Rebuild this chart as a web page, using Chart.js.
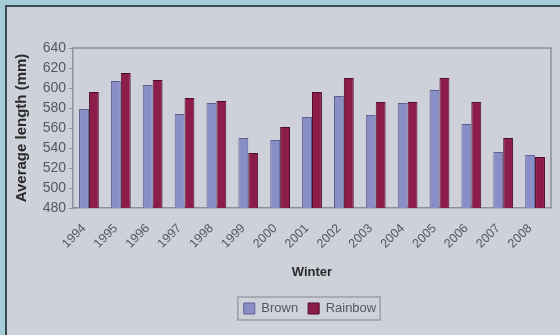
<!DOCTYPE html>
<html>
<head>
<meta charset="utf-8">
<script src="https://cdn.jsdelivr.net/npm/chart.js@4/dist/chart.umd.min.js"></script>
<style>
  html, body { margin: 0; padding: 0; }
  body { width: 560px; height: 335px; background: #a6ccd6; overflow: hidden; position: relative; }
  #frame {
    position: absolute; left: 5px; top: 5px; width: 553px; height: 328px;
    border-left: 2px solid #3b4a52; border-top: 2px solid #3b4a52;
    background: #ced1d9;
  }
  #frame canvas { display: block; }
</style>
</head>
<body>
<div id="frame"><canvas id="c" width="553" height="328"></canvas></div>
<script>
// Average fish length per winter, brown vs rainbow trout
const winters = ['1994','1995','1996','1997','1998','1999','2000','2001','2002','2003','2004','2005','2006','2007','2008'];
const brownLength   = [579, 607, 603, 574, 585, 550, 548, 571, 592, 573, 585, 598, 564, 536, 533];
const rainbowLength = [596, 615, 608, 590, 587, 535, 561, 596, 610, 586, 586, 610, 586, 550, 531];
const yTicks = { min: 480, max: 640, step: 20 };

const AXIS_GREY = '#8c9098';
const TEXT_GREY = '#55585d';
const FONT = 'Liberation Sans, Arial, sans-serif';

// Centre the legend under the plot area rather than the whole canvas
const legendShift = {
  id: 'legendShift',
  afterLayout(chart) {
    const lg = chart.legend, a = chart.chartArea;
    const d = (a.left + a.right) / 2 - (lg.left + lg.right) / 2 - 2;
    lg.left += d;
    lg.right += d;
  }
};

// Grey border on the top and right of the plot area, box around the legend
const framePlugin = {
  id: 'framePlugin',
  afterDraw(chart) {
    const ctx = chart.ctx;
    const a = chart.chartArea;
    ctx.save();
    ctx.strokeStyle = AXIS_GREY;
    ctx.lineWidth = 1.5;
    ctx.beginPath();
    ctx.moveTo(a.left, a.top);
    ctx.lineTo(a.right, a.top);
    ctx.lineTo(a.right, a.bottom);
    ctx.stroke();

    const boxes = chart.legend.legendHitBoxes;
    if (boxes && boxes.length) {
      let l = Infinity, t = Infinity, r = -Infinity, b = -Infinity;
      boxes.forEach(h => {
        l = Math.min(l, h.left); t = Math.min(t, h.top);
        r = Math.max(r, h.left + h.width); b = Math.max(b, h.top + h.height);
      });
      ctx.strokeStyle = '#9a9ea6';
      ctx.lineWidth = 1.5;
      ctx.strokeRect(l - 6, t - 5, (r - l) + 10, (b - t) + 10);
    }
    ctx.restore();
  }
};

new Chart(document.getElementById('c'), {
  type: 'bar',
  data: {
    labels: winters,
    datasets: [
      {
        label: 'Brown',
        data: brownLength,
        backgroundColor: '#8a8ec6',
        borderColor: '#5d6192',
        borderWidth: 1,
        categoryPercentage: 0.62,
        barPercentage: 1.0
      },
      {
        label: 'Rainbow',
        data: rainbowLength,
        backgroundColor: '#8c1c4a',
        borderColor: '#4e0d26',
        borderWidth: 1,
        categoryPercentage: 0.62,
        barPercentage: 1.0
      }
    ]
  },
  options: {
    responsive: false,
    animation: false,
    layout: { padding: { left: 6, top: 41, right: 9, bottom: 10 } },
    plugins: {
      legend: {
        position: 'bottom',
        labels: {
          boxWidth: 11, boxHeight: 11, padding: 10,
          color: TEXT_GREY,
          font: { family: FONT, size: 13 }
        }
      },
      tooltip: { enabled: false }
    },
    scales: {
      x: {
        grid: { display: false },
        border: { display: true, color: AXIS_GREY, width: 1.5 },
        ticks: {
          minRotation: 45, maxRotation: 45, padding: 5, labelOffset: -5,
          color: TEXT_GREY,
          font: { family: FONT, size: 12.5 }
        },
        title: {
          display: true, text: 'Winter', color: '#2a2a2a',
          padding: { top: 4, bottom: 12 },
          font: { family: FONT, size: 13, weight: 'bold' }
        },
        afterFit(scale) { scale.height = 84; }
      },
      y: {
        min: yTicks.min, max: yTicks.max,
        grid: { drawOnChartArea: false, drawTicks: true, tickLength: 4, color: AXIS_GREY },
        border: { display: true, color: AXIS_GREY, width: 1.5 },
        ticks: {
          stepSize: yTicks.step, padding: 3,
          color: TEXT_GREY,
          font: { family: FONT, size: 14 }
        },
        title: {
          display: true, text: 'Average length (mm)', color: '#2a2a2a',
          padding: { top: 0, bottom: 2 },
          font: { family: FONT, size: 15, weight: 'bold' }
        },
        afterFit(scale) { scale.width = 60; }
      }
    }
  },
  plugins: [legendShift, framePlugin]
});
</script>
</body>
</html>
